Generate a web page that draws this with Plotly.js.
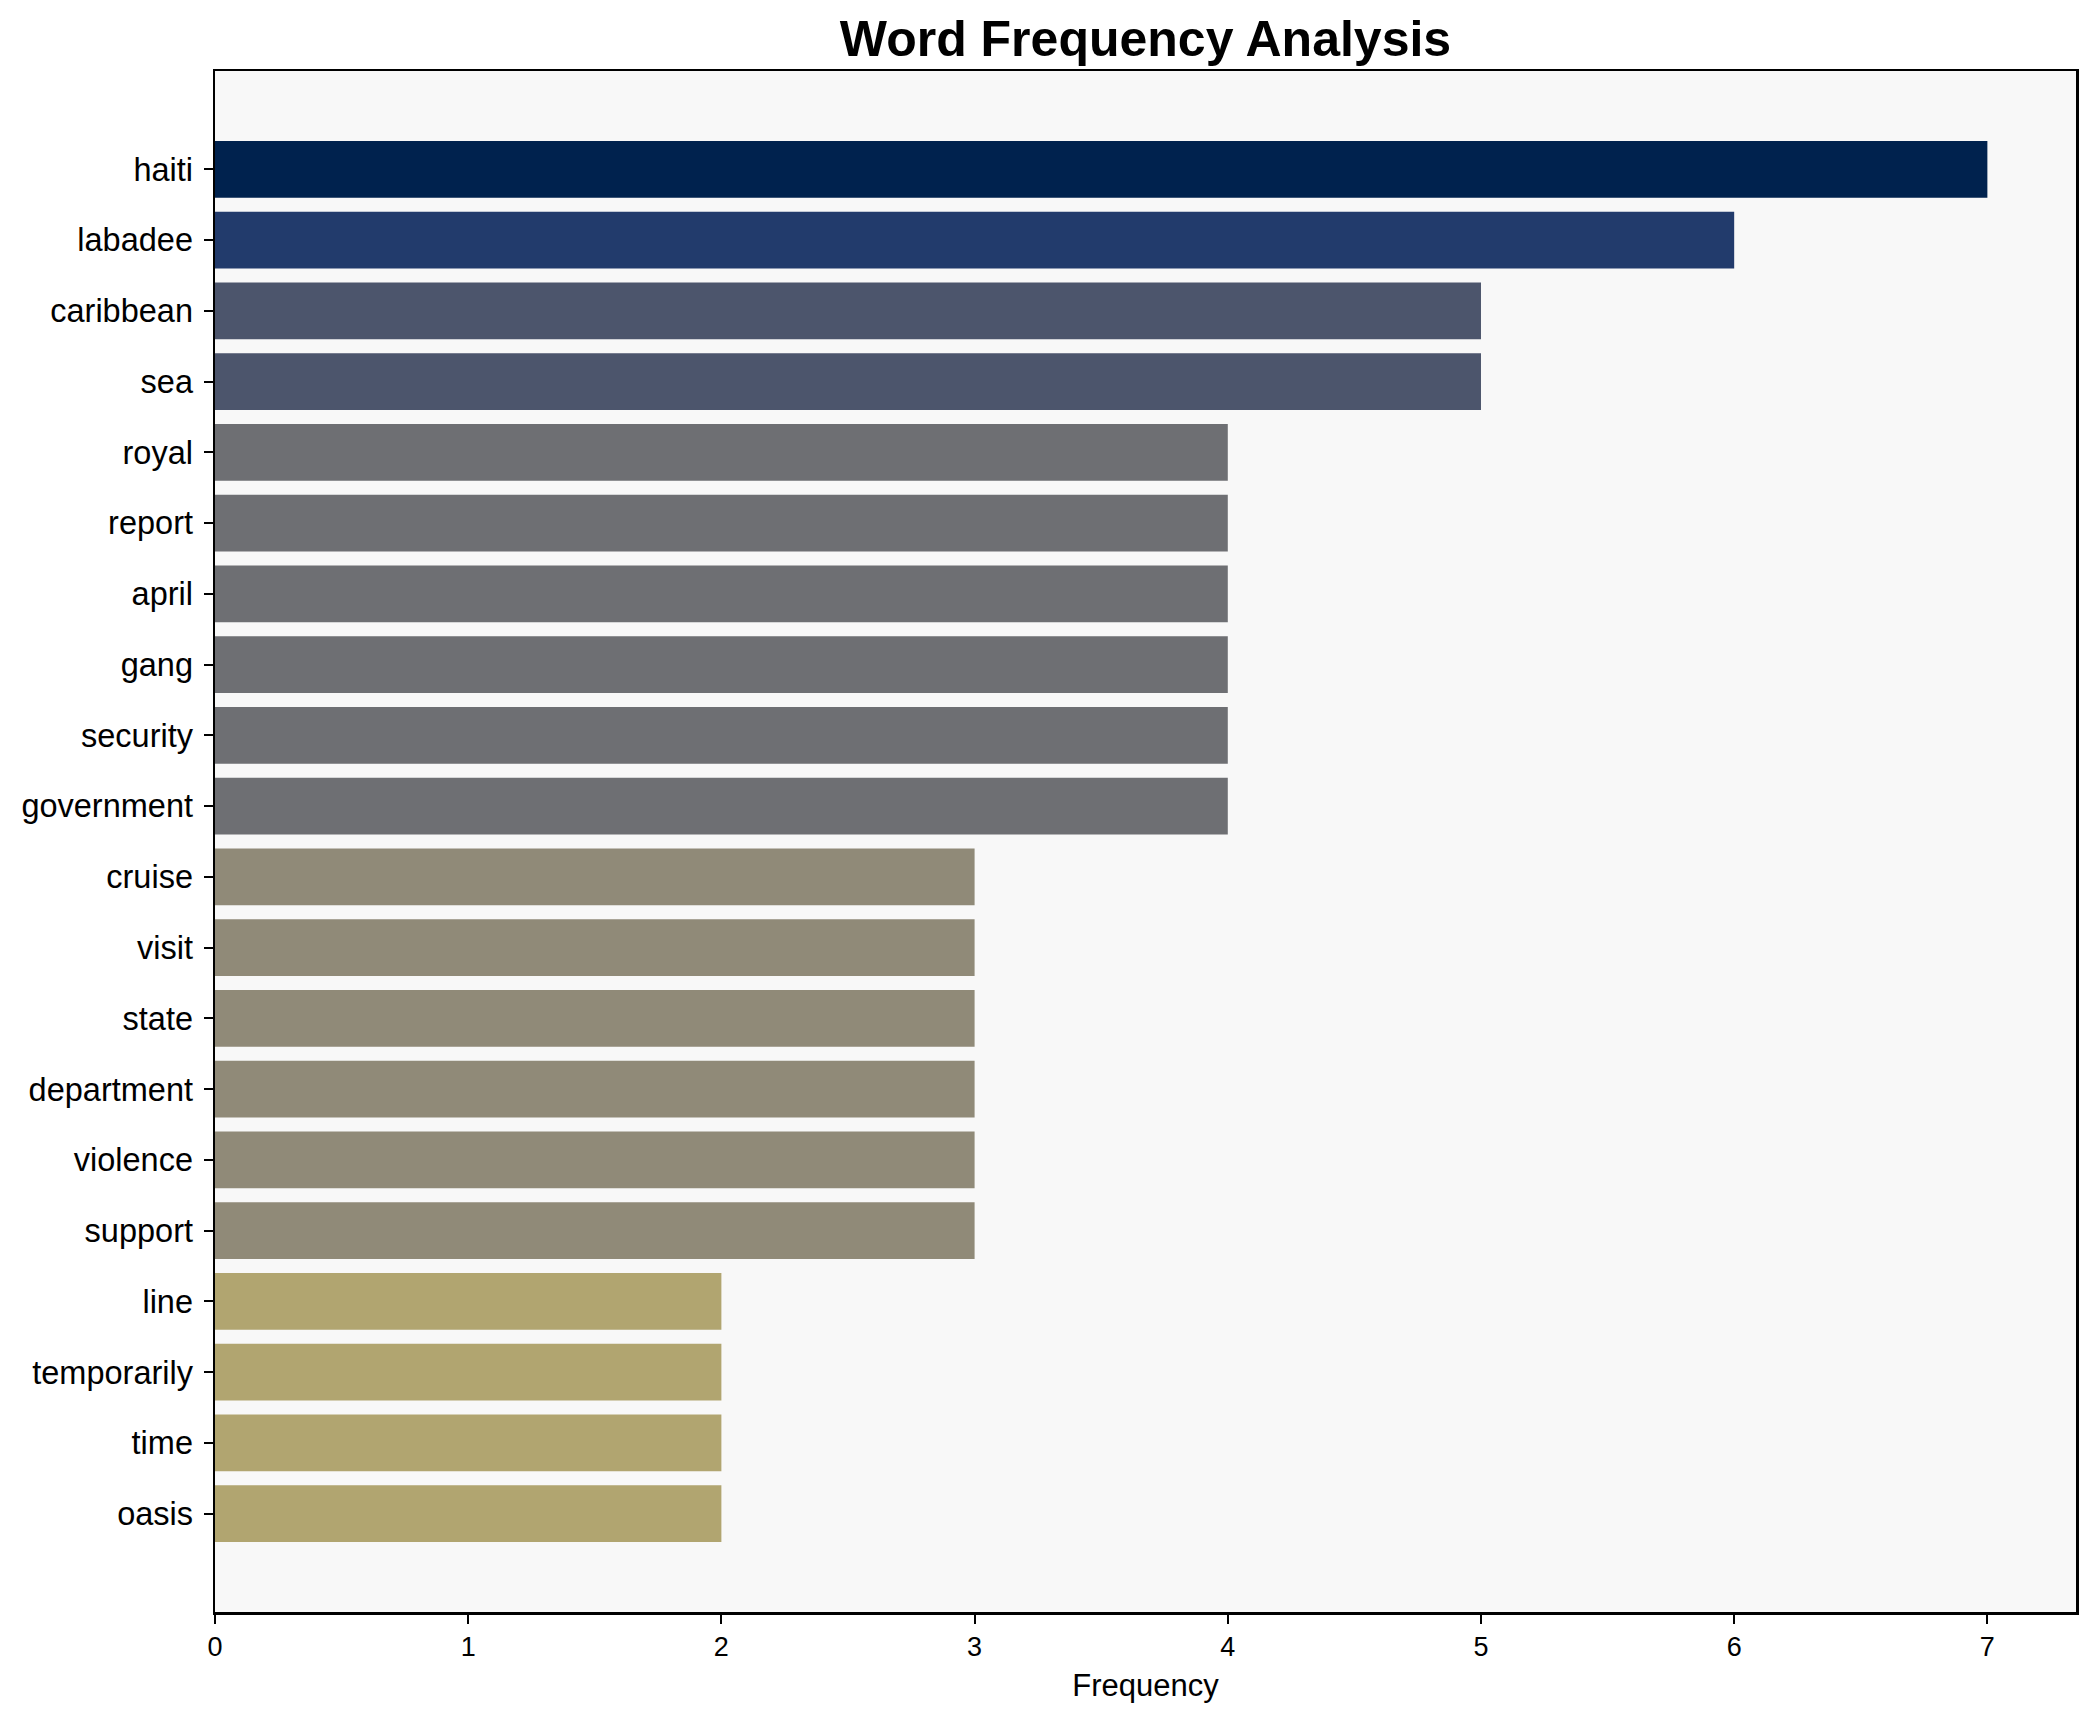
<!DOCTYPE html>
<html>
<head>
<meta charset="utf-8">
<script src="https://cdn.plot.ly/plotly-3.0.1.min.js"></script>
<style>html,body{margin:0;padding:0;background:#fff;}</style>
</head>
<body>
<div id="chart" style="width:2095px;height:1722px;"></div>
<script>
const words = ["haiti","labadee","caribbean","sea","royal","report","april","gang","security","government","cruise","visit","state","department","violence","support","line","temporarily","time","oasis"];
const frequencies = [7,6,5,5,4,4,4,4,4,4,3,3,3,3,3,3,2,2,2,2];
const xTickValues = [0,1,2,3,4,5,6,7];

// colour per frequency level (style)
const palette = {7:"#00224e", 6:"#223b6c", 5:"#4c556c", 4:"#6e6f73", 3:"#908a78", 2:"#b1a570"};

const trace = {
  type: "bar",
  orientation: "h",
  x: frequencies,
  y: words,
  marker: {color: frequencies.map(v => palette[v]), line: {width: 0}},
  hoverinfo: "x+y"
};

const n = words.length;
const layout = {
  width: 2095,
  height: 1722,
  margin: {l: 215, r: 19, t: 71, b: 110},
  paper_bgcolor: "#ffffff",
  plot_bgcolor: "#f8f8f8",
  bargap: 0.2,
  showlegend: false,
  font: {family: "Liberation Sans, Arial, sans-serif", color: "#000"},
  title: {
    text: "<b>Word Frequency Analysis</b>",
    font: {size: 50, family: "Liberation Sans, Arial, sans-serif", color: "#000"},
    x: 0.5, xanchor: "center", xref: "paper",
    y: 1 - 38 / 1722, yanchor: "middle", yref: "container"
  },
  xaxis: {
    range: [0, 7.35],
    tickvals: xTickValues,
    ticktext: xTickValues.map(String),
    ticks: "outside", ticklen: 9, tickwidth: 2, tickcolor: "#000",
    showline: true, linecolor: "#000", linewidth: 2.5, mirror: true,
    showgrid: false, zeroline: false,
    tickfont: {size: 27, color: "#000"},
    title: {text: "Frequency", font: {size: 31, color: "#000"}, standoff: 14}
  },
  yaxis: {
    type: "category",
    categoryorder: "array",
    categoryarray: words,
    range: [n - 1 + 1.39, -1.39],
    ticks: "outside", ticklen: 9, tickwidth: 2, tickcolor: "#000",
    showline: true, linecolor: "#000", linewidth: 2.5, mirror: true,
    showgrid: false, zeroline: false,
    tickfont: {size: 32.5, color: "#000"},
    ticklabelstandoff: 4
  }
};

Plotly.newPlot("chart", [trace], layout, {displayModeBar: false, staticPlot: true});
</script>
</body>
</html>
